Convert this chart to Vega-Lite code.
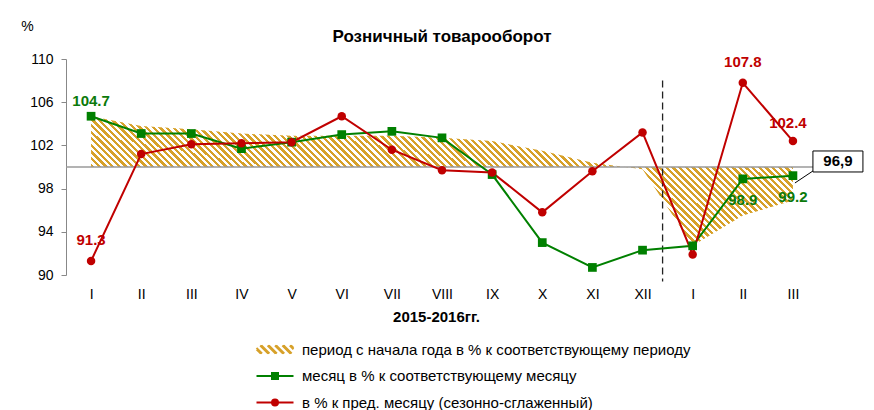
{
  "$schema": "https://vega.github.io/schema/vega-lite/v6.json",
  "width": 752,
  "height": 216,
  "autosize": {"type": "none"},
  "padding": {"left": 66, "top": 59, "right": 56, "bottom": 135},
  "background": "white",
  "config": {"view": {"stroke": null}, "font": "Liberation Sans"},
  "title": {"text": "Розничный товарооборот", "font": "Liberation Sans", "fontSize": 17, "fontWeight": "bold", "color": "#000", "anchor": "middle", "offset": 10, "dy": 37},
  "data": {"values": [
    {"s": "cum", "m": 1, "v": 104.7}, {"s": "cum", "m": 2, "v": 103.8}, {"s": "cum", "m": 3, "v": 103.5}, {"s": "cum", "m": 4, "v": 103.1}, {"s": "cum", "m": 5, "v": 102.9}, {"s": "cum", "m": 6, "v": 102.9}, {"s": "cum", "m": 7, "v": 102.9}, {"s": "cum", "m": 8, "v": 102.7}, {"s": "cum", "m": 9, "v": 102.4}, {"s": "cum", "m": 10, "v": 101.5}, {"s": "cum", "m": 11, "v": 100.4}, {"s": "cum", "m": 12, "v": 99.8}, {"s": "cum", "m": 13, "v": 92.7}, {"s": "cum", "m": 14, "v": 95.5}, {"s": "cum", "m": 15, "v": 96.9, "lab": "96,9"},
    {"s": "mon", "m": 1, "v": 104.7, "lab": "104.7"}, {"s": "mon", "m": 2, "v": 103.1}, {"s": "mon", "m": 3, "v": 103.1}, {"s": "mon", "m": 4, "v": 101.7}, {"s": "mon", "m": 5, "v": 102.3}, {"s": "mon", "m": 6, "v": 103.0}, {"s": "mon", "m": 7, "v": 103.3}, {"s": "mon", "m": 8, "v": 102.7}, {"s": "mon", "m": 9, "v": 99.3}, {"s": "mon", "m": 10, "v": 93.0}, {"s": "mon", "m": 11, "v": 90.7}, {"s": "mon", "m": 12, "v": 92.3}, {"s": "mon", "m": 13, "v": 92.7}, {"s": "mon", "m": 14, "v": 98.9, "lab": "98.9"}, {"s": "mon", "m": 15, "v": 99.2, "lab": "99.2"},
    {"s": "prev", "m": 1, "v": 91.3, "lab": "91.3"}, {"s": "prev", "m": 2, "v": 101.2}, {"s": "prev", "m": 3, "v": 102.1}, {"s": "prev", "m": 4, "v": 102.2}, {"s": "prev", "m": 5, "v": 102.3}, {"s": "prev", "m": 6, "v": 104.7}, {"s": "prev", "m": 7, "v": 101.6}, {"s": "prev", "m": 8, "v": 99.7}, {"s": "prev", "m": 9, "v": 99.5}, {"s": "prev", "m": 10, "v": 95.8}, {"s": "prev", "m": 11, "v": 99.6}, {"s": "prev", "m": 12, "v": 103.2}, {"s": "prev", "m": 13, "v": 91.9}, {"s": "prev", "m": 14, "v": 107.8, "lab": "107.8"}, {"s": "prev", "m": 15, "v": 102.4, "lab": "102.4"}
  ]},
  "layer": [
    {
      "transform": [{"filter": "datum.s == 'cum'"}],
      "mark": {"type": "area", "opacity": 1, "color": {"gradient": "linear", "x1": 0, "y1": 1, "x2": 1.146, "y2": 0.787, "stops": [
        {"offset":0,"color":"#d7a12a"},{"offset":0.004,"color":"#d7a12a"},{"offset":0.004,"color":"#fff"},{"offset":0.008,"color":"#fff"},{"offset":0.008,"color":"#d7a12a"},{"offset":0.012,"color":"#d7a12a"},{"offset":0.012,"color":"#fff"},{"offset":0.016,"color":"#fff"},{"offset":0.016,"color":"#d7a12a"},{"offset":0.02,"color":"#d7a12a"},{"offset":0.02,"color":"#fff"},{"offset":0.024,"color":"#fff"},{"offset":0.024,"color":"#d7a12a"},{"offset":0.028,"color":"#d7a12a"},{"offset":0.028,"color":"#fff"},{"offset":0.032,"color":"#fff"},{"offset":0.032,"color":"#d7a12a"},{"offset":0.036,"color":"#d7a12a"},{"offset":0.036,"color":"#fff"},{"offset":0.04,"color":"#fff"},
        {"offset":0.04,"color":"#d7a12a"},{"offset":0.044,"color":"#d7a12a"},{"offset":0.044,"color":"#fff"},{"offset":0.048,"color":"#fff"},{"offset":0.048,"color":"#d7a12a"},{"offset":0.052,"color":"#d7a12a"},{"offset":0.052,"color":"#fff"},{"offset":0.056,"color":"#fff"},{"offset":0.056,"color":"#d7a12a"},{"offset":0.06,"color":"#d7a12a"},{"offset":0.06,"color":"#fff"},{"offset":0.064,"color":"#fff"},{"offset":0.064,"color":"#d7a12a"},{"offset":0.068,"color":"#d7a12a"},{"offset":0.068,"color":"#fff"},{"offset":0.072,"color":"#fff"},{"offset":0.072,"color":"#d7a12a"},{"offset":0.076,"color":"#d7a12a"},{"offset":0.076,"color":"#fff"},{"offset":0.08,"color":"#fff"},
        {"offset":0.08,"color":"#d7a12a"},{"offset":0.084,"color":"#d7a12a"},{"offset":0.084,"color":"#fff"},{"offset":0.088,"color":"#fff"},{"offset":0.088,"color":"#d7a12a"},{"offset":0.092,"color":"#d7a12a"},{"offset":0.092,"color":"#fff"},{"offset":0.096,"color":"#fff"},{"offset":0.096,"color":"#d7a12a"},{"offset":0.1,"color":"#d7a12a"},{"offset":0.1,"color":"#fff"},{"offset":0.104,"color":"#fff"},{"offset":0.104,"color":"#d7a12a"},{"offset":0.108,"color":"#d7a12a"},{"offset":0.108,"color":"#fff"},{"offset":0.112,"color":"#fff"},{"offset":0.112,"color":"#d7a12a"},{"offset":0.116,"color":"#d7a12a"},{"offset":0.116,"color":"#fff"},{"offset":0.12,"color":"#fff"},
        {"offset":0.12,"color":"#d7a12a"},{"offset":0.124,"color":"#d7a12a"},{"offset":0.124,"color":"#fff"},{"offset":0.128,"color":"#fff"},{"offset":0.128,"color":"#d7a12a"},{"offset":0.132,"color":"#d7a12a"},{"offset":0.132,"color":"#fff"},{"offset":0.136,"color":"#fff"},{"offset":0.136,"color":"#d7a12a"},{"offset":0.14,"color":"#d7a12a"},{"offset":0.14,"color":"#fff"},{"offset":0.144,"color":"#fff"},{"offset":0.144,"color":"#d7a12a"},{"offset":0.148,"color":"#d7a12a"},{"offset":0.148,"color":"#fff"},{"offset":0.152,"color":"#fff"},{"offset":0.152,"color":"#d7a12a"},{"offset":0.156,"color":"#d7a12a"},{"offset":0.156,"color":"#fff"},{"offset":0.16,"color":"#fff"},
        {"offset":0.16,"color":"#d7a12a"},{"offset":0.164,"color":"#d7a12a"},{"offset":0.164,"color":"#fff"},{"offset":0.168,"color":"#fff"},{"offset":0.168,"color":"#d7a12a"},{"offset":0.172,"color":"#d7a12a"},{"offset":0.172,"color":"#fff"},{"offset":0.176,"color":"#fff"},{"offset":0.176,"color":"#d7a12a"},{"offset":0.18,"color":"#d7a12a"},{"offset":0.18,"color":"#fff"},{"offset":0.184,"color":"#fff"},{"offset":0.184,"color":"#d7a12a"},{"offset":0.188,"color":"#d7a12a"},{"offset":0.188,"color":"#fff"},{"offset":0.192,"color":"#fff"},{"offset":0.192,"color":"#d7a12a"},{"offset":0.196,"color":"#d7a12a"},{"offset":0.196,"color":"#fff"},{"offset":0.2,"color":"#fff"},
        {"offset":0.2,"color":"#d7a12a"},{"offset":0.204,"color":"#d7a12a"},{"offset":0.204,"color":"#fff"},{"offset":0.208,"color":"#fff"},{"offset":0.208,"color":"#d7a12a"},{"offset":0.212,"color":"#d7a12a"},{"offset":0.212,"color":"#fff"},{"offset":0.216,"color":"#fff"},{"offset":0.216,"color":"#d7a12a"},{"offset":0.22,"color":"#d7a12a"},{"offset":0.22,"color":"#fff"},{"offset":0.224,"color":"#fff"},{"offset":0.224,"color":"#d7a12a"},{"offset":0.228,"color":"#d7a12a"},{"offset":0.228,"color":"#fff"},{"offset":0.232,"color":"#fff"},{"offset":0.232,"color":"#d7a12a"},{"offset":0.236,"color":"#d7a12a"},{"offset":0.236,"color":"#fff"},{"offset":0.24,"color":"#fff"},
        {"offset":0.24,"color":"#d7a12a"},{"offset":0.244,"color":"#d7a12a"},{"offset":0.244,"color":"#fff"},{"offset":0.248,"color":"#fff"},{"offset":0.248,"color":"#d7a12a"},{"offset":0.252,"color":"#d7a12a"},{"offset":0.252,"color":"#fff"},{"offset":0.256,"color":"#fff"},{"offset":0.256,"color":"#d7a12a"},{"offset":0.26,"color":"#d7a12a"},{"offset":0.26,"color":"#fff"},{"offset":0.264,"color":"#fff"},{"offset":0.264,"color":"#d7a12a"},{"offset":0.268,"color":"#d7a12a"},{"offset":0.268,"color":"#fff"},{"offset":0.272,"color":"#fff"},{"offset":0.272,"color":"#d7a12a"},{"offset":0.276,"color":"#d7a12a"},{"offset":0.276,"color":"#fff"},{"offset":0.28,"color":"#fff"},
        {"offset":0.28,"color":"#d7a12a"},{"offset":0.284,"color":"#d7a12a"},{"offset":0.284,"color":"#fff"},{"offset":0.288,"color":"#fff"},{"offset":0.288,"color":"#d7a12a"},{"offset":0.292,"color":"#d7a12a"},{"offset":0.292,"color":"#fff"},{"offset":0.296,"color":"#fff"},{"offset":0.296,"color":"#d7a12a"},{"offset":0.3,"color":"#d7a12a"},{"offset":0.3,"color":"#fff"},{"offset":0.304,"color":"#fff"},{"offset":0.304,"color":"#d7a12a"},{"offset":0.308,"color":"#d7a12a"},{"offset":0.308,"color":"#fff"},{"offset":0.312,"color":"#fff"},{"offset":0.312,"color":"#d7a12a"},{"offset":0.316,"color":"#d7a12a"},{"offset":0.316,"color":"#fff"},{"offset":0.32,"color":"#fff"},
        {"offset":0.32,"color":"#d7a12a"},{"offset":0.324,"color":"#d7a12a"},{"offset":0.324,"color":"#fff"},{"offset":0.328,"color":"#fff"},{"offset":0.328,"color":"#d7a12a"},{"offset":0.332,"color":"#d7a12a"},{"offset":0.332,"color":"#fff"},{"offset":0.336,"color":"#fff"},{"offset":0.336,"color":"#d7a12a"},{"offset":0.34,"color":"#d7a12a"},{"offset":0.34,"color":"#fff"},{"offset":0.344,"color":"#fff"},{"offset":0.344,"color":"#d7a12a"},{"offset":0.348,"color":"#d7a12a"},{"offset":0.348,"color":"#fff"},{"offset":0.352,"color":"#fff"},{"offset":0.352,"color":"#d7a12a"},{"offset":0.356,"color":"#d7a12a"},{"offset":0.356,"color":"#fff"},{"offset":0.36,"color":"#fff"},
        {"offset":0.36,"color":"#d7a12a"},{"offset":0.364,"color":"#d7a12a"},{"offset":0.364,"color":"#fff"},{"offset":0.368,"color":"#fff"},{"offset":0.368,"color":"#d7a12a"},{"offset":0.372,"color":"#d7a12a"},{"offset":0.372,"color":"#fff"},{"offset":0.376,"color":"#fff"},{"offset":0.376,"color":"#d7a12a"},{"offset":0.38,"color":"#d7a12a"},{"offset":0.38,"color":"#fff"},{"offset":0.384,"color":"#fff"},{"offset":0.384,"color":"#d7a12a"},{"offset":0.388,"color":"#d7a12a"},{"offset":0.388,"color":"#fff"},{"offset":0.392,"color":"#fff"},{"offset":0.392,"color":"#d7a12a"},{"offset":0.396,"color":"#d7a12a"},{"offset":0.396,"color":"#fff"},{"offset":0.4,"color":"#fff"},
        {"offset":0.4,"color":"#d7a12a"},{"offset":0.404,"color":"#d7a12a"},{"offset":0.404,"color":"#fff"},{"offset":0.408,"color":"#fff"},{"offset":0.408,"color":"#d7a12a"},{"offset":0.412,"color":"#d7a12a"},{"offset":0.412,"color":"#fff"},{"offset":0.416,"color":"#fff"},{"offset":0.416,"color":"#d7a12a"},{"offset":0.42,"color":"#d7a12a"},{"offset":0.42,"color":"#fff"},{"offset":0.424,"color":"#fff"},{"offset":0.424,"color":"#d7a12a"},{"offset":0.428,"color":"#d7a12a"},{"offset":0.428,"color":"#fff"},{"offset":0.432,"color":"#fff"},{"offset":0.432,"color":"#d7a12a"},{"offset":0.436,"color":"#d7a12a"},{"offset":0.436,"color":"#fff"},{"offset":0.44,"color":"#fff"},
        {"offset":0.44,"color":"#d7a12a"},{"offset":0.444,"color":"#d7a12a"},{"offset":0.444,"color":"#fff"},{"offset":0.448,"color":"#fff"},{"offset":0.448,"color":"#d7a12a"},{"offset":0.452,"color":"#d7a12a"},{"offset":0.452,"color":"#fff"},{"offset":0.456,"color":"#fff"},{"offset":0.456,"color":"#d7a12a"},{"offset":0.46,"color":"#d7a12a"},{"offset":0.46,"color":"#fff"},{"offset":0.464,"color":"#fff"},{"offset":0.464,"color":"#d7a12a"},{"offset":0.468,"color":"#d7a12a"},{"offset":0.468,"color":"#fff"},{"offset":0.472,"color":"#fff"},{"offset":0.472,"color":"#d7a12a"},{"offset":0.476,"color":"#d7a12a"},{"offset":0.476,"color":"#fff"},{"offset":0.48,"color":"#fff"},
        {"offset":0.48,"color":"#d7a12a"},{"offset":0.484,"color":"#d7a12a"},{"offset":0.484,"color":"#fff"},{"offset":0.488,"color":"#fff"},{"offset":0.488,"color":"#d7a12a"},{"offset":0.492,"color":"#d7a12a"},{"offset":0.492,"color":"#fff"},{"offset":0.496,"color":"#fff"},{"offset":0.496,"color":"#d7a12a"},{"offset":0.5,"color":"#d7a12a"},{"offset":0.5,"color":"#fff"},{"offset":0.504,"color":"#fff"},{"offset":0.504,"color":"#d7a12a"},{"offset":0.508,"color":"#d7a12a"},{"offset":0.508,"color":"#fff"},{"offset":0.512,"color":"#fff"},{"offset":0.512,"color":"#d7a12a"},{"offset":0.516,"color":"#d7a12a"},{"offset":0.516,"color":"#fff"},{"offset":0.52,"color":"#fff"},
        {"offset":0.52,"color":"#d7a12a"},{"offset":0.524,"color":"#d7a12a"},{"offset":0.524,"color":"#fff"},{"offset":0.528,"color":"#fff"},{"offset":0.528,"color":"#d7a12a"},{"offset":0.532,"color":"#d7a12a"},{"offset":0.532,"color":"#fff"},{"offset":0.536,"color":"#fff"},{"offset":0.536,"color":"#d7a12a"},{"offset":0.54,"color":"#d7a12a"},{"offset":0.54,"color":"#fff"},{"offset":0.544,"color":"#fff"},{"offset":0.544,"color":"#d7a12a"},{"offset":0.548,"color":"#d7a12a"},{"offset":0.548,"color":"#fff"},{"offset":0.552,"color":"#fff"},{"offset":0.552,"color":"#d7a12a"},{"offset":0.556,"color":"#d7a12a"},{"offset":0.556,"color":"#fff"},{"offset":0.56,"color":"#fff"},
        {"offset":0.56,"color":"#d7a12a"},{"offset":0.564,"color":"#d7a12a"},{"offset":0.564,"color":"#fff"},{"offset":0.568,"color":"#fff"},{"offset":0.568,"color":"#d7a12a"},{"offset":0.572,"color":"#d7a12a"},{"offset":0.572,"color":"#fff"},{"offset":0.576,"color":"#fff"},{"offset":0.576,"color":"#d7a12a"},{"offset":0.58,"color":"#d7a12a"},{"offset":0.58,"color":"#fff"},{"offset":0.584,"color":"#fff"},{"offset":0.584,"color":"#d7a12a"},{"offset":0.588,"color":"#d7a12a"},{"offset":0.588,"color":"#fff"},{"offset":0.592,"color":"#fff"},{"offset":0.592,"color":"#d7a12a"},{"offset":0.596,"color":"#d7a12a"},{"offset":0.596,"color":"#fff"},{"offset":0.6,"color":"#fff"},
        {"offset":0.6,"color":"#d7a12a"},{"offset":0.604,"color":"#d7a12a"},{"offset":0.604,"color":"#fff"},{"offset":0.608,"color":"#fff"},{"offset":0.608,"color":"#d7a12a"},{"offset":0.612,"color":"#d7a12a"},{"offset":0.612,"color":"#fff"},{"offset":0.616,"color":"#fff"},{"offset":0.616,"color":"#d7a12a"},{"offset":0.62,"color":"#d7a12a"},{"offset":0.62,"color":"#fff"},{"offset":0.624,"color":"#fff"},{"offset":0.624,"color":"#d7a12a"},{"offset":0.628,"color":"#d7a12a"},{"offset":0.628,"color":"#fff"},{"offset":0.632,"color":"#fff"},{"offset":0.632,"color":"#d7a12a"},{"offset":0.636,"color":"#d7a12a"},{"offset":0.636,"color":"#fff"},{"offset":0.64,"color":"#fff"},
        {"offset":0.64,"color":"#d7a12a"},{"offset":0.644,"color":"#d7a12a"},{"offset":0.644,"color":"#fff"},{"offset":0.648,"color":"#fff"},{"offset":0.648,"color":"#d7a12a"},{"offset":0.652,"color":"#d7a12a"},{"offset":0.652,"color":"#fff"},{"offset":0.656,"color":"#fff"},{"offset":0.656,"color":"#d7a12a"},{"offset":0.66,"color":"#d7a12a"},{"offset":0.66,"color":"#fff"},{"offset":0.664,"color":"#fff"},{"offset":0.664,"color":"#d7a12a"},{"offset":0.668,"color":"#d7a12a"},{"offset":0.668,"color":"#fff"},{"offset":0.672,"color":"#fff"},{"offset":0.672,"color":"#d7a12a"},{"offset":0.676,"color":"#d7a12a"},{"offset":0.676,"color":"#fff"},{"offset":0.68,"color":"#fff"},
        {"offset":0.68,"color":"#d7a12a"},{"offset":0.684,"color":"#d7a12a"},{"offset":0.684,"color":"#fff"},{"offset":0.688,"color":"#fff"},{"offset":0.688,"color":"#d7a12a"},{"offset":0.692,"color":"#d7a12a"},{"offset":0.692,"color":"#fff"},{"offset":0.696,"color":"#fff"},{"offset":0.696,"color":"#d7a12a"},{"offset":0.7,"color":"#d7a12a"},{"offset":0.7,"color":"#fff"},{"offset":0.704,"color":"#fff"},{"offset":0.704,"color":"#d7a12a"},{"offset":0.708,"color":"#d7a12a"},{"offset":0.708,"color":"#fff"},{"offset":0.712,"color":"#fff"},{"offset":0.712,"color":"#d7a12a"},{"offset":0.716,"color":"#d7a12a"},{"offset":0.716,"color":"#fff"},{"offset":0.72,"color":"#fff"},
        {"offset":0.72,"color":"#d7a12a"},{"offset":0.724,"color":"#d7a12a"},{"offset":0.724,"color":"#fff"},{"offset":0.728,"color":"#fff"},{"offset":0.728,"color":"#d7a12a"},{"offset":0.732,"color":"#d7a12a"},{"offset":0.732,"color":"#fff"},{"offset":0.736,"color":"#fff"},{"offset":0.736,"color":"#d7a12a"},{"offset":0.74,"color":"#d7a12a"},{"offset":0.74,"color":"#fff"},{"offset":0.744,"color":"#fff"},{"offset":0.744,"color":"#d7a12a"},{"offset":0.748,"color":"#d7a12a"},{"offset":0.748,"color":"#fff"},{"offset":0.752,"color":"#fff"},{"offset":0.752,"color":"#d7a12a"},{"offset":0.756,"color":"#d7a12a"},{"offset":0.756,"color":"#fff"},{"offset":0.76,"color":"#fff"},
        {"offset":0.76,"color":"#d7a12a"},{"offset":0.764,"color":"#d7a12a"},{"offset":0.764,"color":"#fff"},{"offset":0.768,"color":"#fff"},{"offset":0.768,"color":"#d7a12a"},{"offset":0.772,"color":"#d7a12a"},{"offset":0.772,"color":"#fff"},{"offset":0.776,"color":"#fff"},{"offset":0.776,"color":"#d7a12a"},{"offset":0.78,"color":"#d7a12a"},{"offset":0.78,"color":"#fff"},{"offset":0.784,"color":"#fff"},{"offset":0.784,"color":"#d7a12a"},{"offset":0.788,"color":"#d7a12a"},{"offset":0.788,"color":"#fff"},{"offset":0.792,"color":"#fff"},{"offset":0.792,"color":"#d7a12a"},{"offset":0.796,"color":"#d7a12a"},{"offset":0.796,"color":"#fff"},{"offset":0.8,"color":"#fff"},
        {"offset":0.8,"color":"#d7a12a"},{"offset":0.804,"color":"#d7a12a"},{"offset":0.804,"color":"#fff"},{"offset":0.808,"color":"#fff"},{"offset":0.808,"color":"#d7a12a"},{"offset":0.812,"color":"#d7a12a"},{"offset":0.812,"color":"#fff"},{"offset":0.816,"color":"#fff"},{"offset":0.816,"color":"#d7a12a"},{"offset":0.82,"color":"#d7a12a"},{"offset":0.82,"color":"#fff"},{"offset":0.824,"color":"#fff"},{"offset":0.824,"color":"#d7a12a"},{"offset":0.828,"color":"#d7a12a"},{"offset":0.828,"color":"#fff"},{"offset":0.832,"color":"#fff"},{"offset":0.832,"color":"#d7a12a"},{"offset":0.836,"color":"#d7a12a"},{"offset":0.836,"color":"#fff"},{"offset":0.84,"color":"#fff"},
        {"offset":0.84,"color":"#d7a12a"},{"offset":0.844,"color":"#d7a12a"},{"offset":0.844,"color":"#fff"},{"offset":0.848,"color":"#fff"},{"offset":0.848,"color":"#d7a12a"},{"offset":0.852,"color":"#d7a12a"},{"offset":0.852,"color":"#fff"},{"offset":0.856,"color":"#fff"},{"offset":0.856,"color":"#d7a12a"},{"offset":0.86,"color":"#d7a12a"},{"offset":0.86,"color":"#fff"},{"offset":0.864,"color":"#fff"},{"offset":0.864,"color":"#d7a12a"},{"offset":0.868,"color":"#d7a12a"},{"offset":0.868,"color":"#fff"},{"offset":0.872,"color":"#fff"},{"offset":0.872,"color":"#d7a12a"},{"offset":0.876,"color":"#d7a12a"},{"offset":0.876,"color":"#fff"},{"offset":0.88,"color":"#fff"},
        {"offset":0.88,"color":"#d7a12a"},{"offset":0.884,"color":"#d7a12a"},{"offset":0.884,"color":"#fff"},{"offset":0.888,"color":"#fff"},{"offset":0.888,"color":"#d7a12a"},{"offset":0.892,"color":"#d7a12a"},{"offset":0.892,"color":"#fff"},{"offset":0.896,"color":"#fff"},{"offset":0.896,"color":"#d7a12a"},{"offset":0.9,"color":"#d7a12a"},{"offset":0.9,"color":"#fff"},{"offset":0.904,"color":"#fff"},{"offset":0.904,"color":"#d7a12a"},{"offset":0.908,"color":"#d7a12a"},{"offset":0.908,"color":"#fff"},{"offset":0.912,"color":"#fff"},{"offset":0.912,"color":"#d7a12a"},{"offset":0.916,"color":"#d7a12a"},{"offset":0.916,"color":"#fff"},{"offset":0.92,"color":"#fff"},
        {"offset":0.92,"color":"#d7a12a"},{"offset":0.924,"color":"#d7a12a"},{"offset":0.924,"color":"#fff"},{"offset":0.928,"color":"#fff"},{"offset":0.928,"color":"#d7a12a"},{"offset":0.932,"color":"#d7a12a"},{"offset":0.932,"color":"#fff"},{"offset":0.936,"color":"#fff"},{"offset":0.936,"color":"#d7a12a"},{"offset":0.94,"color":"#d7a12a"},{"offset":0.94,"color":"#fff"},{"offset":0.944,"color":"#fff"},{"offset":0.944,"color":"#d7a12a"},{"offset":0.948,"color":"#d7a12a"},{"offset":0.948,"color":"#fff"},{"offset":0.952,"color":"#fff"},{"offset":0.952,"color":"#d7a12a"},{"offset":0.956,"color":"#d7a12a"},{"offset":0.956,"color":"#fff"},{"offset":0.96,"color":"#fff"},
        {"offset":0.96,"color":"#d7a12a"},{"offset":0.964,"color":"#d7a12a"},{"offset":0.964,"color":"#fff"},{"offset":0.968,"color":"#fff"},{"offset":0.968,"color":"#d7a12a"},{"offset":0.972,"color":"#d7a12a"},{"offset":0.972,"color":"#fff"},{"offset":0.976,"color":"#fff"},{"offset":0.976,"color":"#d7a12a"},{"offset":0.98,"color":"#d7a12a"},{"offset":0.98,"color":"#fff"},{"offset":0.984,"color":"#fff"},{"offset":0.984,"color":"#d7a12a"},{"offset":0.988,"color":"#d7a12a"},{"offset":0.988,"color":"#fff"},{"offset":0.992,"color":"#fff"},{"offset":0.992,"color":"#d7a12a"},{"offset":0.996,"color":"#d7a12a"},{"offset":0.996,"color":"#fff"},{"offset":1,"color":"#fff"}
      ]}},
      "encoding": {
        "x": {"field": "m", "type": "quantitative", "scale": {"domain": [0.5, 15.5], "nice": false, "zero": false},
          "axis": {"values": [1, 2, 3, 4, 5, 6, 7, 8, 9, 10, 11, 12, 13, 14, 15], "labelExpr": "['I','II','III','IV','V','VI','VII','VIII','IX','X','XI','XII','I','II','III'][datum.value - 1]", "title": "2015-2016гг.", "domain": false, "ticks": false, "tickSize": 0, "grid": false, "labelFont": "Liberation Sans", "labelFontSize": 14, "labelColor": "#000", "labelPadding": 12, "labelFlush": false, "labelOverlap": false, "titleFont": "Liberation Sans", "titleFontSize": 15, "titleFontWeight": "bold", "titleColor": "#000", "titleX": 370, "titleY": 41, "titleBaseline": "middle"}},
        "y": {"field": "v", "type": "quantitative", "scale": {"domain": [90, 110], "nice": false, "zero": false},
          "axis": {"values": [90, 94, 98, 102, 106, 110], "title": "%", "titleAngle": 0, "titleX": -39, "titleY": -33, "titleAlign": "center", "titleBaseline": "middle", "titleFont": "Liberation Sans", "titleFontWeight": "normal", "titleFontSize": 14, "titleColor": "#000", "grid": false, "domainColor": "#888", "tickColor": "#888", "tickSize": 5, "labelFont": "Liberation Sans", "labelFontSize": 14, "labelPadding": 8, "labelColor": "#000"}},
        "y2": {"datum": 100}
      }
    },
    {
      "data": {"values": [{"ref": 100}]},
      "mark": {"type": "rule", "color": "#9a9a9a", "strokeWidth": 1.5},
      "encoding": {"y": {"field": "ref", "type": "quantitative"}}
    },
    {
      "data": {"values": [{"sep": 12.4, "top": 108, "bottom": 89.4}]},
      "mark": {"type": "rule", "color": "#222", "strokeWidth": 1.3, "strokeDash": [7, 4]},
      "encoding": {"x": {"field": "sep", "type": "quantitative"}, "y": {"field": "top", "type": "quantitative"}, "y2": {"field": "bottom"}}
    },
    {
      "transform": [{"filter": "datum.s == 'mon'"}],
      "mark": {"type": "line", "color": "#008000", "strokeWidth": 2},
      "encoding": {"x": {"field": "m", "type": "quantitative"}, "y": {"field": "v", "type": "quantitative"}}
    },
    {
      "transform": [{"filter": "datum.s == 'prev'"}],
      "mark": {"type": "line", "color": "#c00000", "strokeWidth": 2},
      "encoding": {"x": {"field": "m", "type": "quantitative"}, "y": {"field": "v", "type": "quantitative"}}
    },
    {
      "transform": [{"filter": "datum.s == 'mon'"}],
      "mark": {"type": "point", "shape": "square", "size": 76, "filled": true, "color": "#008000", "opacity": 1},
      "encoding": {"x": {"field": "m", "type": "quantitative"}, "y": {"field": "v", "type": "quantitative"}}
    },
    {
      "transform": [{"filter": "datum.s == 'prev'"}],
      "mark": {"type": "point", "shape": "circle", "size": 72, "filled": true, "color": "#c00000", "opacity": 1},
      "encoding": {"x": {"field": "m", "type": "quantitative"}, "y": {"field": "v", "type": "quantitative"}}
    },
    {
      "transform": [{"filter": "false"}],
      "mark": {"type": "point", "filled": false, "opacity": 1, "strokeWidth": 2},
      "encoding": {
        "x": {"field": "m", "type": "quantitative"},
        "y": {"field": "v", "type": "quantitative"},
        "color": {"field": "s", "type": "nominal", "scale": {"domain": ["cum", "mon", "prev"], "range": ["#d7a12a", "#008000", "#c00000"]},
          "legend": {"title": null, "orient": "none", "legendX": 201.5, "legendY": 283, "padding": 0, "symbolSize": 100, "symbolStrokeWidth": 2, "symbolOpacity": 1, "labelOffset": 19.5, "rowPadding": 10.5, "labelFont": "Liberation Sans", "labelFontSize": 15, "labelColor": "#000", "labelLimit": 600,
            "labelExpr": "datum.value == 'cum' ? 'период с начала года в % к соответствующему периоду' : datum.value == 'mon' ? 'месяц в % к соответствующему месяцу' : '\u00a0в % к пред. месяцу (сезонно-сглаженный)'"}},
        "shape": {"field": "s", "type": "nominal", "scale": {"domain": ["cum", "mon", "prev"], "range": [
            "M-3.7,-0.06L-2.84,0.8M-3.7,-0.31L-2.59,0.8M-2.96,-0.8L-1.36,0.8M-2.71,-0.8L-1.11,0.8M-1.48,-0.8L0.12,0.8M-1.23,-0.8L0.37,0.8M0,-0.8L1.6,0.8M0.25,-0.8L1.85,0.8M1.48,-0.8L3.08,0.8M1.73,-0.8L3.33,0.8M2.96,-0.8L3.7,-0.06M3.21,-0.8L3.7,-0.31",
            "M-3.7,0H3.7M-0.6,-0.6H0.6V0.6H-0.6ZM-0.2,-0.2H0.2V0.2H-0.2Z",
            "M-3.7,0H3.7M0.6,0A0.6,0.6,0,1,1,-0.6,0A0.6,0.6,0,1,1,0.6,0ZM0.2,0A0.2,0.2,0,1,1,-0.2,0A0.2,0.2,0,1,1,0.2,0Z"]},
          "legend": {"title": null, "orient": "none", "legendX": 201.5, "legendY": 283, "padding": 0, "symbolSize": 100, "symbolStrokeWidth": 2, "symbolOpacity": 1, "labelOffset": 19.5, "rowPadding": 10.5, "labelFont": "Liberation Sans", "labelFontSize": 15, "labelColor": "#000", "labelLimit": 600,
            "labelExpr": "datum.value == 'cum' ? 'период с начала года в % к соответствующему периоду' : datum.value == 'mon' ? 'месяц в % к соответствующему месяцу' : '\u00a0в % к пред. месяцу (сезонно-сглаженный)'"}}
      }
    },
    {
      "transform": [{"filter": "datum.s == 'mon' && datum.m == 1"}],
      "mark": {"type": "text", "font": "Liberation Sans", "fontSize": 15, "fontWeight": "bold", "color": "#0b7a0b", "dy": -15, "baseline": "middle"},
      "encoding": {"x": {"field": "m", "type": "quantitative"}, "y": {"field": "v", "type": "quantitative"}, "text": {"field": "lab"}}
    },
    {
      "transform": [{"filter": "datum.s == 'mon' && datum.lab && datum.m > 1"}],
      "mark": {"type": "text", "font": "Liberation Sans", "fontSize": 15, "fontWeight": "bold", "color": "#0b7a0b", "dy": 21, "baseline": "middle"},
      "encoding": {"x": {"field": "m", "type": "quantitative"}, "y": {"field": "v", "type": "quantitative"}, "text": {"field": "lab"}}
    },
    {
      "transform": [{"filter": "datum.s == 'prev' && datum.lab && datum.m < 15"}],
      "mark": {"type": "text", "font": "Liberation Sans", "fontSize": 15, "fontWeight": "bold", "color": "#c00000", "dy": -21, "baseline": "middle"},
      "encoding": {"x": {"field": "m", "type": "quantitative"}, "y": {"field": "v", "type": "quantitative"}, "text": {"field": "lab"}}
    },
    {
      "transform": [{"filter": "datum.s == 'prev' && datum.m == 15"}],
      "mark": {"type": "text", "font": "Liberation Sans", "fontSize": 15, "fontWeight": "bold", "color": "#c00000", "dx": -5, "dy": -18, "baseline": "middle"},
      "encoding": {"x": {"field": "m", "type": "quantitative"}, "y": {"field": "v", "type": "quantitative"}, "text": {"field": "lab"}}
    },
    {
      "transform": [{"filter": "datum.s == 'cum' && datum.lab"}],
      "mark": {"type": "point", "shape": "M2,-17.5L20,-29.5M20,-49.5H70V-28.5H20Z", "size": 4, "filled": true, "fill": "#fff", "stroke": "#000", "strokeWidth": 1, "opacity": 1},
      "encoding": {"x": {"field": "m", "type": "quantitative"}, "y": {"field": "v", "type": "quantitative"}}
    },
    {
      "transform": [{"filter": "datum.s == 'cum' && datum.lab"}],
      "mark": {"type": "text", "font": "Liberation Sans", "fontSize": 15, "fontWeight": "bold", "color": "#000", "dx": 45, "dy": -39, "baseline": "middle"},
      "encoding": {"x": {"field": "m", "type": "quantitative"}, "y": {"field": "v", "type": "quantitative"}, "text": {"field": "lab"}}
    }
  ]
}
